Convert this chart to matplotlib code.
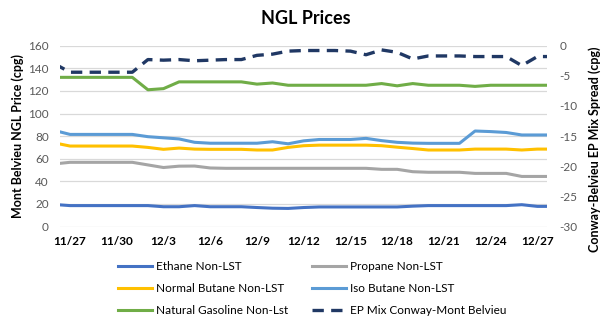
import pandas as pd
import matplotlib.pyplot as plt

plt.rcParams['font.family'] = ['Lato', 'DejaVu Sans']
plt.rcParams['axes.unicode_minus'] = False

# Daily prices, 11/26 through 12/28 (cents per gallon)
dates = pd.date_range('2023-11-26', '2023-12-28', freq='D')

ethane = [19.5, 18.5, 18.5, 18.5, 18.5, 18.5, 18.5, 17.5, 17.5, 18.5, 17.5, 17.5,
          17.5, 16.8, 16.2, 16.0, 16.8, 17.3, 17.3, 17.3, 17.3, 17.3, 17.3, 18.0,
          18.5, 18.5, 18.5, 18.5, 18.5, 18.5, 19.3, 17.8, 17.8]
propane = [55.4, 56.8, 56.8, 56.8, 56.8, 56.8, 54.5, 52.2, 53.4, 53.5, 51.8, 51.5,
           51.5, 51.5, 51.5, 51.5, 51.5, 51.5, 51.5, 51.5, 51.5, 50.6, 50.6, 48.5,
           48.0, 48.0, 48.0, 47.0, 47.0, 47.0, 44.3, 44.3, 44.3]
normal_butane = [74.0, 71.2, 71.2, 71.2, 71.2, 71.2, 70.0, 68.3, 69.4, 68.5, 68.3, 68.3,
                 68.3, 67.7, 67.7, 70.0, 71.5, 72.0, 72.0, 72.0, 72.0, 71.5, 70.2, 69.0,
                 67.7, 67.7, 67.7, 68.5, 68.5, 68.5, 67.7, 68.5, 68.5]
iso_butane = [85.0, 81.5, 81.5, 81.5, 81.5, 81.5, 79.5, 78.5, 77.5, 74.5, 73.7, 73.7,
              73.7, 73.7, 75.0, 73.2, 75.8, 77.0, 77.0, 77.0, 78.0, 76.0, 74.5, 73.8,
              73.6, 73.6, 73.6, 84.5, 84.0, 83.2, 81.0, 81.0, 81.0]
natural_gasoline = [132, 132, 132, 132, 132, 132, 121, 122, 128, 128, 128, 128,
                    128, 126, 127, 125, 125, 125, 125, 125, 125, 126.5, 124.5, 126.5,
                    125, 125, 125, 124, 125, 125, 125, 125, 125]
ep_mix_spread = [-3.0, -4.4, -4.4, -4.4, -4.4, -4.4, -2.3, -2.4, -2.3, -2.5, -2.4, -2.3,
                 -2.3, -1.6, -1.4, -0.9, -0.8, -0.8, -0.8, -0.9, -1.5, -0.7, -1.1, -2.2,
                 -1.7, -1.7, -1.7, -1.8, -1.8, -1.8, -3.3, -1.8, -1.8]

price_series = [
    ('Ethane Non-LST', ethane, '#4472C4'),
    ('Propane Non-LST', propane, '#A5A5A5'),
    ('Normal Butane Non-LST', normal_butane, '#FFC000'),
    ('Iso Butane Non-LST', iso_butane, '#5B9BD5'),
    ('Natural Gasoline Non-Lst', natural_gasoline, '#70AD47'),
]

fig = plt.figure(figsize=(6.08, 3.26), dpi=100)
ax = fig.add_axes([0.0987, 0.3052, 0.8005, 0.5546])
ax2 = ax.twinx()

lines = {}
for name, values, color in price_series:
    lines[name], = ax.plot(dates, values, color=color, lw=2.2, label=name)

lines['EP Mix Conway-Mont Belvieu'], = ax2.plot(
    dates, ep_mix_spread, color='#203864', lw=2.4, linestyle=(0, (3.4, 2.2)),
    label='EP Mix Conway-Mont Belvieu')

ax.set_ylim(0, 160)
ax.set_yticks(range(0, 161, 20))
ax2.set_ylim(-30, 0)
ax2.set_yticks(range(-30, 1, 5))

tick_dates = dates[1::3]
ax.set_xticks(tick_dates)
ax.set_xticklabels([f'{d.month}/{d.day}' for d in tick_dates], fontweight='bold',
                   fontsize=9, color='black')
ax.set_xlim(dates[1] - pd.Timedelta(hours=15.4), dates[-2] + pd.Timedelta(hours=14.4))

ax.grid(axis='y', color='#D9D9D9', lw=0.9)
ax.set_axisbelow(True)
for a in (ax, ax2):
    for s in a.spines.values():
        s.set_visible(False)
    a.tick_params(length=0, labelsize=8.5, labelcolor='#595959')
ax.tick_params(axis='y', pad=8)
ax2.tick_params(axis='y', pad=9)
ax.tick_params(axis='x', pad=7, labelcolor='black')

ax.set_ylabel('Mont Belvieu NGL Price (cpg)', fontweight='bold', fontsize=9)
ax2.set_ylabel('Conway-Belvieu EP Mix Spread (cpg)', fontweight='bold', fontsize=9,
               rotation=90)
ax.yaxis.set_label_coords(-0.075, 0.5)
ax2.yaxis.set_label_coords(1.085, 0.43)

fig.text(0.503, 1 - 18 / 326, 'NGL Prices', ha='center', va='center',
         fontsize=13, fontweight='bold')

order = ['Ethane Non-LST', 'Normal Butane Non-LST', 'Natural Gasoline Non-Lst',
         'Propane Non-LST', 'Iso Butane Non-LST', 'EP Mix Conway-Mont Belvieu']
fig.legend([lines[n] for n in order], order, ncol=2, loc='upper left',
           bbox_to_anchor=(118 / 608, 1 - 261 / 326), frameon=False, fontsize=8.5,
           handlelength=2.9, handletextpad=0.35, columnspacing=1.95,
           labelspacing=0.95, borderpad=0, borderaxespad=0)

fig.savefig('out.png', dpi=100)
